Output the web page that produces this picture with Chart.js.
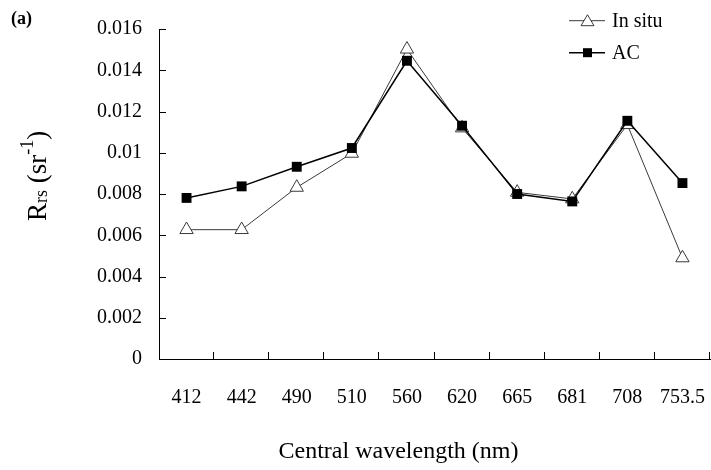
<!DOCTYPE html>
<html><head><meta charset="utf-8">
<script src="https://cdn.jsdelivr.net/npm/chart.js@4/dist/chart.umd.min.js"></script>
<style>html,body{margin:0;padding:0;background:#fff;overflow:hidden;} #wrap{width:711px;height:470px;position:relative;} canvas{display:block;}</style>
</head><body><div id="wrap"><canvas id="c" width="711" height="470"></canvas></div>
<script>
// ---- data ----
const wavelengths = ['412','442','490','510','560','620','665','681','708','753.5'];
const inSitu = [0.00627,0.00627,0.00832,0.00997,0.01502,0.01120,0.00808,0.00776,0.01136,0.00490];
const ac     = [0.00781,0.00837,0.00932,0.01023,0.01446,0.01131,0.00800,0.00764,0.01155,0.00853];
const seriesNames = ['In situ','AC'];
const yTicks = [0,0.002,0.004,0.006,0.008,0.010,0.012,0.014,0.016];
const yTickLabels = ['0','0.002','0.004','0.006','0.008','0.01','0.012','0.014','0.016'];
const xTitle = 'Central wavelength (nm)';
const panelLabel = '(a)';

const SERIF = '"Liberation Serif", "Times New Roman", serif';

const decor = {
  id: 'decor',
  afterDraw(chart) {
    const ctx = chart.ctx, xs = chart.scales.x, ys = chart.scales.y, ca = chart.chartArea;
    ctx.save();
    // inward tick marks
    ctx.strokeStyle = '#000'; ctx.lineWidth = 1;
    ctx.beginPath();
    yTicks.forEach(v => {
      const py = Math.round(ys.getPixelForValue(v)) + 0.5;
      ctx.moveTo(ca.left, py); ctx.lineTo(ca.left + 7, py);
    });
    for (let i = 1; i <= wavelengths.length; i++) {
      const px = i < wavelengths.length ? (xs.getPixelForValue(i - 1) + xs.getPixelForValue(i)) / 2 : ca.right;
      const ppx = Math.round(px) - 0.5;
      ctx.moveTo(ppx, ca.bottom); ctx.lineTo(ppx, ca.bottom - 7);
    }
    ctx.stroke();

    ctx.fillStyle = '#000';
    // x title
    ctx.font = '24px ' + SERIF; ctx.textAlign = 'center'; ctx.textBaseline = 'alphabetic';
    ctx.fillText(xTitle, 398.5, 458);
    // panel label
    ctx.font = 'bold 18px ' + SERIF; ctx.textAlign = 'left';
    ctx.fillText(panelLabel, 11, 24);

    // y title with subscript / superscript
    ctx.save();
    ctx.translate(46, 221); ctx.rotate(-Math.PI / 2);
    ctx.textAlign = 'left'; ctx.textBaseline = 'alphabetic';
    let cx = 0;
    [['R', 27, 0], ['rs', 18, 1], [' (sr', 27, 0], ['-1', 18, -13], [')', 27, 0]].forEach(([t, s, dy]) => {
      ctx.font = s + 'px ' + SERIF; ctx.fillText(t, cx, dy); cx += ctx.measureText(t).width;
    });
    ctx.restore();

    // legend
    const rows = [20.7, 52.7];
    chart.data.datasets.forEach((ds, i) => {
      const y = rows[i];
      ctx.strokeStyle = ds.borderColor; ctx.lineWidth = ds.borderWidth;
      ctx.beginPath(); ctx.moveTo(569, y); ctx.lineTo(605, y); ctx.stroke();
      ctx.lineWidth = 1;
      if (ds.pointStyle === 'triangle') {
        ctx.beginPath();
        ctx.moveTo(587.5, y - 6); ctx.lineTo(594, y + 5); ctx.lineTo(581, y + 5); ctx.closePath();
        ctx.fillStyle = '#fff'; ctx.fill(); ctx.strokeStyle = ds.pointBorderColor; ctx.stroke();
      } else {
        ctx.fillStyle = ds.pointBackgroundColor; ctx.fillRect(583, y - 4.5, 9, 9);
      }
      ctx.fillStyle = '#000'; ctx.font = '20px ' + SERIF; ctx.textAlign = 'left';
      ctx.fillText(ds.label, 612, y + 6.5);
    });
    ctx.restore();
  }
};

new Chart(document.getElementById('c'), {
  type: 'line',
  data: {
    labels: wavelengths,
    datasets: [
      { label: seriesNames[0], data: inSitu, order: 1,
        borderColor: '#3a3a3a', borderWidth: 1, pointStyle: 'triangle', pointRadius: 7.7,
        pointBackgroundColor: '#fff', pointBorderColor: '#3a3a3a', pointBorderWidth: 1, tension: 0 },
      { label: seriesNames[1], data: ac, order: 0,
        borderColor: '#000', borderWidth: 1.5, pointStyle: 'rect', pointRadius: 7,
        pointBackgroundColor: '#000', pointBorderColor: '#000', pointBorderWidth: 0, tension: 0 }
    ]
  },
  options: {
    responsive: false, animation: false, devicePixelRatio: 1,
    layout: { autoPadding: false, padding: { top: 29, right: 1, bottom: 0, left: 0 } },
    plugins: { legend: { display: false }, tooltip: { enabled: false } },
    scales: {
      x: {
        type: 'category', offset: true,
        grid: { display: false, drawTicks: false, offset: true },
        border: { display: true, color: '#000', width: 1 },
        ticks: { color: '#000', font: { family: SERIF, size: 20 }, padding: 27, maxRotation: 0, autoSkip: false },
        afterFit(s) { s.height = 111; s.paddingLeft = 0; s.paddingRight = 0; }
      },
      y: {
        min: 0, max: 0.016,
        grid: { display: false, drawTicks: false },
        border: { display: true, color: '#000', width: 1 },
        afterBuildTicks(s) { s.ticks = yTicks.map(v => ({ value: v })); },
        ticks: { color: '#000', font: { family: SERIF, size: 20 }, padding: 17,
          callback: (v) => { const i = yTicks.findIndex(t => Math.abs(t - v) < 1e-9); return i >= 0 ? yTickLabels[i] : ''; } },
        afterFit(s) { s.width = 159; s.paddingTop = 0; s.paddingBottom = 0; }
      }
    }
  },
  plugins: [decor]
});
</script>
</body></html>
